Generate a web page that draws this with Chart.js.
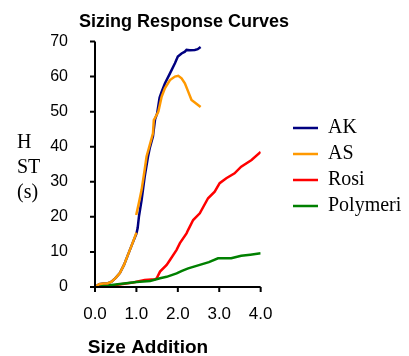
<!DOCTYPE html>
<html>
<head>
<meta charset="utf-8">
<script src="https://cdn.jsdelivr.net/npm/chart.js@4/dist/chart.umd.min.js"></script>
<style>
  html, body { margin: 0; padding: 0; background: #fff; }
  #wrap { width: 409px; height: 356px; position: relative; }
</style>
</head>
<body>
<div id="wrap"><canvas id="chart"></canvas></div>
<script>
const xMin = 0, xMax = 4, xStep = 1;
const yMin = 0, yMax = 70, yStep = 10;

const akX = [0, 0.1, 0.2, 0.3, 0.4, 0.5, 0.6, 0.7, 0.8, 0.9, 1.0, 1.03, 1.06, 1.125, 1.2, 1.28, 1.32, 1.4, 1.45, 1.5, 1.56, 1.61, 1.69, 1.81, 1.93, 2.0, 2.09, 2.17, 2.21, 2.29, 2.41, 2.48, 2.55];
const akY = [0, 0.8, 1.0, 1.0, 1.5, 2.6, 4.0, 6.3, 9.3, 12.3, 15.2, 16.8, 20, 24.8, 31.5, 37.2, 39.5, 43, 47.8, 49.5, 54, 55.7, 58.1, 60.9, 63.8, 65.7, 66.6, 67.1, 67.6, 67.5, 67.6, 67.8, 68.4];

const asX = [0, 0.1, 0.2, 0.3, 0.4, 0.5, 0.6, 0.7, 0.8, 0.9, 1.0, 1.0, 0.995, 1.06, 1.125, 1.2, 1.245, 1.31, 1.40, 1.42, 1.45, 1.53, 1.61, 1.69, 1.81, 1.93, 2.01, 2.09, 2.17, 2.25, 2.33, 2.41, 2.55];
const asY = [0, 0.8, 1.0, 1.0, 1.5, 2.6, 4.0, 6.3, 9.3, 12.3, 15.5, null, 20.5, 24, 27.7, 33.5, 37.2, 40, 43.8, 47.6, 48.2, 50, 54.3, 56.7, 59.0, 60.0, 60.2, 59.5, 58.1, 55.7, 53.3, 52.6, 51.3];

const rosiX = [0, 0.5, 0.92, 1.2, 1.45, 1.49, 1.57, 1.73, 1.81, 1.97, 2.05, 2.21, 2.25, 2.37, 2.53, 2.73, 2.89, 3.01, 3.17, 3.37, 3.53, 3.78, 4.0];
const rosiY = [0, 0.6, 1.3, 2.0, 2.2, 2.5, 4.4, 6.3, 7.7, 10.6, 12.5, 15.3, 16.3, 19.1, 21, 25.3, 27.2, 29.6, 31, 32.4, 34.3, 36.2, 38.5];

const polyX = [0, 0.5, 1.0, 1.33, 1.57, 1.73, 1.97, 2.1, 2.25, 2.53, 2.75, 2.97, 3.29, 3.53, 3.75, 4.0];
const polyY = [0, 0.7, 1.4, 1.7, 2.5, 2.9, 3.9, 4.6, 5.3, 6.3, 7.1, 8.2, 8.2, 8.9, 9.2, 9.6];

function toPoints(xs, ys) {
    return xs.map((x, i) => ({ x: x, y: ys[i] }));
}

function line(label, xs, ys, color, order) {
    return {
        label: label,
        data: toPoints(xs, ys),
        borderColor: color,
        backgroundColor: color,
        borderWidth: 2.5,
        showLine: true,
        pointRadius: 0,
        tension: 0,
        order: order
    };
}

// titles drawn by hand, Excel puts them off-centre and the y title is not rotated
const textPlugin = {
    id: 'texts',
    afterLayout(chart) {
        // push the legend over to where the original has it
        const lg = chart.legend;
        const dx = 293 - (lg.left + 6);
        lg.left += dx; lg.right += dx;
        lg.top -= 16; lg.bottom -= 16;
    },
    afterDraw(chart) {
        const ctx = chart.ctx;
        const a = chart.chartArea;
        ctx.save();
        // axis lines and outside tick marks, like Excel
        ctx.strokeStyle = '#000';
        ctx.lineWidth = 2;
        ctx.beginPath();
        ctx.moveTo(a.left, a.top);
        ctx.lineTo(a.left, a.bottom);
        ctx.lineTo(a.right, a.bottom);
        chart.scales.y.ticks.forEach(t => {
            const py = chart.scales.y.getPixelForValue(t.value);
            ctx.moveTo(a.left - 5, py); ctx.lineTo(a.left, py);
        });
        chart.scales.x.ticks.forEach(t => {
            const px = chart.scales.x.getPixelForValue(t.value);
            ctx.moveTo(px, a.bottom); ctx.lineTo(px, a.bottom + 5);
        });
        ctx.stroke();

        ctx.fillStyle = '#000';
        ctx.textBaseline = 'alphabetic';
        ctx.textAlign = 'center';
        ctx.font = 'bold 18px "Liberation Sans"';
        ctx.fillText('Sizing Response Curves', 184, 27);
        ctx.font = 'bold 19px "Liberation Sans"';
        ctx.fillText('Size Addition', 148, 353);
        ctx.textAlign = 'left';
        ctx.font = '20px "Liberation Serif"';
        ctx.fillText('H', 17, 148);
        ctx.fillText('ST', 17, 173);
        ctx.fillText('(s)', 17, 198);
        ctx.restore();
    }
};

new Chart(document.getElementById('chart'), {
    type: 'scatter',
    data: {
        datasets: [
            line('AK', akX, akY, '#000080', 1),
            line('AS', asX, asY, '#FF9900', 0),
            line('Rosi', rosiX, rosiY, '#FF0000', 3),
            line('Polymeri', polyX, polyY, '#008000', 2)
        ]
    },
    options: {
        responsive: true,
        maintainAspectRatio: false,
        animation: false,
        layout: { padding: { left: 40, top: 41.5, right: 24, bottom: 31.6 } },
        plugins: {
            title: { display: false },
            tooltip: { enabled: false },
            legend: {
                position: 'right',
                maxWidth: 200,
                labels: {
                    usePointStyle: true,
                    pointStyle: 'line',
                    pointStyleWidth: 25,
                    padding: 6,
                    color: '#000',
                    font: { family: '"Liberation Serif"', size: 20 },
                    sort: (a, b) => a.datasetIndex - b.datasetIndex
                }
            }
        },
        scales: {
            x: {
                type: 'linear',
                min: xMin,
                max: xMax,
                afterFit: (s) => { s.height = 37.4; },
                ticks: {
                    stepSize: xStep,
                    color: '#000',
                    font: { family: '"Liberation Sans"', size: 17 },
                    padding: 12,
                    callback: (v) => Number(v).toFixed(1)
                },
                grid: { display: false, tickLength: 5 },
                border: { display: false }
            },
            y: {
                type: 'linear',
                min: yMin,
                max: yMax,
                afterFit: (s) => { s.width = 55; },
                ticks: {
                    stepSize: yStep,
                    color: '#000',
                    font: { family: '"Liberation Sans"', size: 16 },
                    padding: 22
                },
                grid: { display: false, tickLength: 5 },
                border: { display: false }
            }
        }
    },
    plugins: [textPlugin]
});
</script>
</body>
</html>
